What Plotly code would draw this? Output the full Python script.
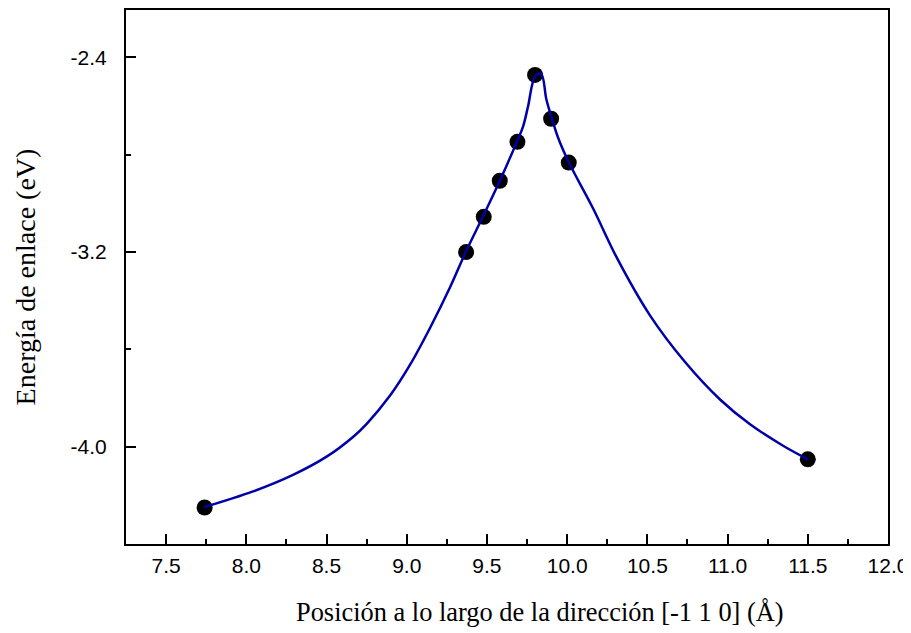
import plotly.graph_objects as go

# Data points (DFT energies)
pos_x = [7.74, 9.37, 9.48, 9.58, 9.69, 9.80, 9.90, 10.01, 11.50]
energy_y = [-4.25, -3.20, -3.055, -2.907, -2.747, -2.472, -2.652, -2.832, -4.052]

# Smooth guide curve
curve_x = [7.736, 8.042, 8.291, 8.503, 8.665, 8.752, 8.896, 9.020, 9.145, 9.270,
           9.369, 9.475, 9.581, 9.687, 9.725, 9.756, 9.800, 9.837, 9.871, 9.905,
           9.943, 10.011, 10.161, 10.311, 10.516, 10.735, 10.953, 11.140, 11.346, 11.501]
curve_y = [-4.249, -4.184, -4.116, -4.040, -3.960, -3.905, -3.790, -3.664, -3.512, -3.345,
           -3.198, -3.054, -2.906, -2.746, -2.684, -2.602, -2.478, -2.466, -2.574, -2.651,
           -2.729, -2.832, -3.020, -3.225, -3.460, -3.652, -3.806, -3.908, -3.996, -4.052]

x_tickvals = [7.5, 8.0, 8.5, 9.0, 9.5, 10.0, 10.5, 11.0, 11.5, 12.0]
y_tickvals = [-2.4, -3.2, -4.0]

x_title = "Posición a lo largo de la dirección [-1 1 0] (Å)"
y_title = "Energía de enlace (eV)"

fig = go.Figure()
fig.add_trace(go.Scatter(x=pos_x, y=energy_y, mode="markers",
                         marker=dict(color="black", size=16), showlegend=False))
fig.add_trace(go.Scatter(x=curve_x, y=curve_y, mode="lines",
                         line=dict(color="#0000A8", width=2.5, shape="spline", smoothing=1.0),
                         showlegend=False))

# page body has an 8px margin, so the figure is sized/offset to compensate
fig.update_layout(
    width=903, height=625,
    margin=dict(l=118, r=23, t=2, b=89),
    plot_bgcolor="white", paper_bgcolor="white",
    font=dict(family="Liberation Sans, Arial", size=21, color="black"),
)
fig.update_xaxes(
    range=[7.25, 12.0], tickvals=x_tickvals, ticktext=[f"{v:.1f}" for v in x_tickvals],
    ticks="inside", ticklen=10, tickwidth=2, tickcolor="black",
    minor=dict(ticks="inside", ticklen=5, tickwidth=2, dtick=0.25, tick0=7.25, tickcolor="black"),
    showline=True, linewidth=2, linecolor="black", mirror=True, automargin=False,
    showgrid=False, zeroline=False, ticklabelstandoff=2,
)
fig.update_yaxes(
    range=[-4.4, -2.205], tickvals=y_tickvals, ticktext=[f"{v:.1f}" for v in y_tickvals],
    ticks="inside", ticklen=10, tickwidth=2, tickcolor="black",
    minor=dict(ticks="inside", ticklen=5, tickwidth=2, dtick=0.4, tick0=-4.0, tickcolor="black"),
    showline=True, linewidth=2, linecolor="black", mirror=True, automargin=False,
    showgrid=False, zeroline=False, ticklabelstandoff=13,
    title=dict(text=y_title,
               font=dict(family="Liberation Serif, Times New Roman", size=28), standoff=27),
)
fig.add_annotation(
    text=x_title, xref="paper", yref="paper", x=0.5433, y=-0.1275,
    xanchor="center", yanchor="middle", showarrow=False,
    font=dict(family="Liberation Serif, Times New Roman", size=26.4, color="black"),
)

fig.write_html("out.html")
